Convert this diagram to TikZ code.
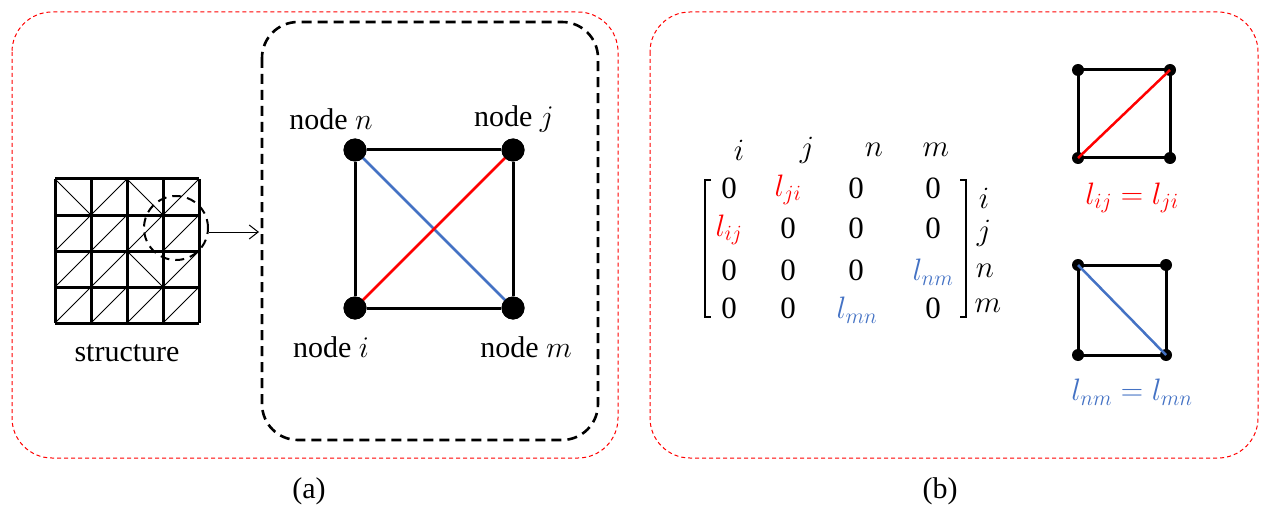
\RequirePackage{fix-cm}
\documentclass[tikz,border=0pt]{standalone}
\usepackage{fontspec}
\setmainfont{Liberation Serif}
\usetikzlibrary{arrows.meta}
\definecolor{myred}{HTML}{FF0000}
\definecolor{myblue}{HTML}{4472C4}
\tikzset{
  redframe/.style={draw=myred, line width=1pt, dash pattern=on 4pt off 3pt, rounded corners=40pt},
  blackframe/.style={draw=black, line width=2.6pt, dash pattern=on 10pt off 6pt, rounded corners=36pt},
  dot/.style={circle, fill=black, inner sep=0pt, minimum size=23pt},
  sdot/.style={circle, fill=black, inner sep=0pt, minimum size=12pt},
  edge/.style={line width=3pt},
  redd/.style={draw=myred, line width=2.5pt},
  blued/.style={draw=myblue, line width=2.5pt},
  lbl/.style={font=\fontsize{30}{34}\selectfont, inner sep=0pt},
  mat/.style={font=\fontsize{31}{35}\selectfont, inner sep=0pt},
}
\begin{document}
\begin{tikzpicture}[x=1pt,y=-1pt]
\useasboundingbox (0,0) rectangle (1268,513);
% frames
\draw[redframe] (12,12) rectangle (618,458);
\draw[redframe] (650,12) rectangle (1258,458);
\draw[blackframe] (262,22) rectangle (598,440);
% structure grid
\foreach \k in {0,...,4} {
  \draw[line width=3pt] (55+36*\k,179) -- (55+36*\k,323);
  \draw[line width=3pt] (55,179+36*\k) -- (199,179+36*\k);
}
% diagonals: backslash cells
\foreach \c/\r in {0/0,2/0,2/2} {
  \draw[line width=0.9pt] (55+36*\c,179+36*\r) -- (91+36*\c,215+36*\r);
}
\foreach \c/\r in {1/0,3/0,0/1,1/1,2/1,3/1,0/2,1/2,3/2,0/3,1/3,2/3,3/3} {
  \draw[line width=0.9pt] (55+36*\c,215+36*\r) -- (91+36*\c,179+36*\r);
}
\node[draw, circle, line width=2pt, dash pattern=on 9pt off 6pt, minimum size=64pt, inner sep=0pt] (zoomc) at (176,228) {};
\coordinate (arrend) at (259,232);
\draw[line width=1pt, -{Straight Barb[length=9pt,width=14pt]}] (zoomc.east |- arrend) -- (arrend);
\node[lbl] (struct) at (127,353) {structure};
% main square
\node[dot] (n) at (355,150) {};
\node[dot] (j) at (513,150) {};
\node[dot] (i) at (355,308) {};
\node[dot] (m) at (513,308) {};
\draw[edge] (n) -- (j);
\draw[edge] (j) -- (m);
\draw[edge] (m) -- (i);
\draw[edge] (i) -- (n);
\draw[blued] (n.center) -- (m.center);
\draw[redd] (i.center) -- (j.center);
\node[dot] at (n) {};
\node[dot] at (j) {};
\node[dot] at (i) {};
\node[dot] at (m) {};
\node[lbl] (ln) at (331,119) {node $n$};
\node[lbl] (lj) at (514,119) {node $j$};
\node[lbl] (li) at (331,347) {node $i$};
\node[lbl] (lm) at (526,347) {node $m$};
\node[lbl] (ca) at (309,491) {(a)};
\node[lbl] (cb) at (940,491) {(b)};
% matrix
\node[mat] (hi) at (739,150) {$i$};
\node[mat] (hj) at (807,150) {$j$};
\node[mat] (hn) at (874,150) {$n$};
\node[mat] (hm) at (936,150) {$m$};
\node[mat] (a11) at (729,188) {0};
\node[mat,text=myred] (a12) at (788,190) {$l_{ji}$};
\node[mat] (a13) at (856,188) {0};
\node[mat] (a14) at (933,188) {0};
\node[mat,text=myred] (a21) at (729,230) {$l_{ij}$};
\node[mat] (a22) at (788,228) {0};
\node[mat] (a23) at (856,228) {0};
\node[mat] (a24) at (933,228) {0};
\node[mat] (a31) at (729,270) {0};
\node[mat] (a32) at (788,270) {0};
\node[mat] (a33) at (856,270) {0};
\node[mat,text=myblue] (a34) at (933,272) {$l_{nm}$};
\node[mat] (a41) at (729,308) {0};
\node[mat] (a42) at (788,308) {0};
\node[mat,text=myblue] (a43) at (857,310) {$l_{mn}$};
\node[mat] (a44) at (933,308) {0};
\draw[line width=1.3pt] (711,180) -- (705,180) -- (705,317) -- (711,317);
\draw[line width=1.3pt] (960,180) -- (966,180) -- (966,317) -- (960,317);
\node[mat] (ri) at (984,198) {$i$};
\node[mat] (rj) at (984,233) {$j$};
\node[mat] (rn) at (985,271) {$n$};
\node[mat] (rm) at (988,306) {$m$};
% small squares
\node[sdot] (p1) at (1078,70) {};
\node[sdot] (p2) at (1170,70) {};
\node[sdot] (p3) at (1078,158) {};
\node[sdot] (p4) at (1170,158) {};
\draw[edge] (p1.center) -- (p2.center) -- (p4.center) -- (p3.center) -- cycle;
\draw[redd] (p3.center) -- (p2.center);
\node[mat,text=myred] (eq1) at (1132,198) {$l_{ij}=l_{ji}$};
\node[sdot] (q1) at (1078,265) {};
\node[sdot] (q2) at (1166,265) {};
\node[sdot] (q3) at (1078,355) {};
\node[sdot] (q4) at (1166,355) {};
\draw[edge] (q1.center) -- (q2.center) -- (q4.center) -- (q3.center) -- cycle;
\draw[blued] (q1.center) -- (q4.center);
\node[mat,text=myblue] (eq2) at (1132,392) {$l_{nm}=l_{mn}$};
\end{tikzpicture}
\end{document}
